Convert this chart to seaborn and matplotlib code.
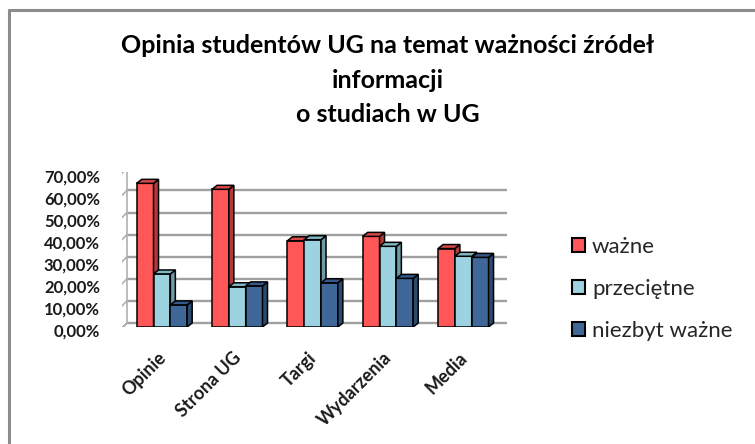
import numpy as np
import pandas as pd
import matplotlib
matplotlib.use("Agg")
import matplotlib.pyplot as plt
import matplotlib.transforms as mtransforms
from matplotlib.patches import Polygon, Patch
from matplotlib.lines import Line2D
import seaborn as sns

# dane (w %)
kategorie = ["Opinie", "Strona UG", "Targi", "Wydarzenia", "Media"]
wazne = [65.0, 62.3, 39.0, 41.0, 35.5]
przecietne = [24.0, 18.2, 39.5, 36.5, 32.0]
niezbyt_wazne = [10.0, 18.6, 20.0, 22.0, 31.5]
serie = ["ważne", "przeciętne", "niezbyt ważne"]
yticks = [0, 10, 20, 30, 40, 50, 60, 70]
tytul = "Opinia studentów UG na temat ważności źródeł\ninformacji\no studiach w UG"

kolory = ["#FF5757", "#9DD3E0", "#3F6899"]
boki = ["#B03A3A", "#6F9AA6", "#2B4A70"]
gory = ["#D94848", "#7FB6C4", "#34588A"]

df = pd.DataFrame({
    "kategoria": kategorie * 3,
    "wartosc": wazne + przecietne + niezbyt_wazne,
    "ocena": [s for s in serie for _ in kategorie],
})

sns.set_theme(style="white")
plt.rcParams["font.family"] = ["Lato", "DejaVu Sans"]

W, H = 755, 444
fig = plt.figure(figsize=(W / 100, H / 100), dpi=100)

# obszar wykresu w pikselach
left_px, right_px = 122, 507
zero_px, top_px = 327, 172.3
ax = fig.add_axes([left_px / W, (H - zero_px) / H, (right_px - left_px) / W, (zero_px - top_px) / H])

sns.barplot(data=df, x="kategoria", y="wartosc", hue="ocena", palette=kolory,
            width=0.67, edgecolor="black", linewidth=1.1, ax=ax, legend=False,
            saturation=1)
ax.set_xlim(-0.53, 4.58)
ax.set_ylim(0, 70)
for s in ax.spines.values():
    s.set_visible(False)
ax.set_xlabel("")
ax.set_ylabel("")
ax.set_yticks([])
ax.set_facecolor("none")


def off(dx, dy):
    return ax.transData + mtransforms.ScaledTranslation(dx / 100, dy / 100, fig.dpi_scale_trans)


back = (5, 4)
front = (-4, -5)
x0, x1 = ax.get_xlim()

# podloga
floor_pts = []
for (xx, (dx, dy)) in [(x0, front), (x1, front), (x1, back), (x0, back)]:
    floor_pts.append(off(dx, dy).transform((xx, 0)))
ax.add_patch(Polygon(floor_pts, closed=True, facecolor="white", edgecolor="#a0a0a0",
                     linewidth=1.3, transform=mtransforms.IdentityTransform(), zorder=0.5))

# linie siatki na tylnej scianie + lewa sciana
for y in yticks:
    ax.plot([x0, x1], [y, y], color="#a0a0a0", lw=1.7, transform=off(*back), zorder=0.6)
    p_front = off(*front).transform((x0, y))
    p_back = off(*back).transform((x0, y))
    ax.add_line(Line2D([p_front[0], p_back[0]], [p_front[1], p_back[1]], color="#b0b0b0",
                       lw=1.2, transform=mtransforms.IdentityTransform(), zorder=0.6))
ax.plot([x0, x0], [0, 70], color="#b0b0b0", lw=1.2, transform=off(*front), zorder=0.6)
ax.plot([x0, x0], [0, 70], color="#b0b0b0", lw=1.2, transform=off(*back), zorder=0.6)

# efekt 3D slupkow
ident = mtransforms.IdentityTransform()
n = len(kategorie)
for i, bar in enumerate(ax.patches[:3 * n]):
    k = i // n
    bx0, bx1 = bar.get_x(), bar.get_x() + bar.get_width()
    h = bar.get_height()
    bar.set_zorder(3 + k)
    td = ax.transData
    ob = off(*back)
    a, b = td.transform((bx1, 0)), td.transform((bx1, h))
    c, d = ob.transform((bx1, h)), ob.transform((bx1, 0))
    ax.add_patch(Polygon([a, b, c, d], closed=True, facecolor=boki[k], edgecolor="black",
                         linewidth=1.1, transform=ident, zorder=3 + k + 0.1))
    a, b = td.transform((bx0, h)), td.transform((bx1, h))
    c, d = ob.transform((bx1, h)), ob.transform((bx0, h))
    ax.add_patch(Polygon([a, b, c, d], closed=True, facecolor=gory[k], edgecolor="black",
                         linewidth=1.1, transform=ident, zorder=3 + k + 0.1))

# etykiety osi Y
ylab_tr = mtransforms.blended_transform_factory(ax.transAxes, ax.transData) + \
    mtransforms.ScaledTranslation(-0.04, -0.05, fig.dpi_scale_trans)
for y in yticks:
    ax.text(-0.047, y, f"{y:.2f}%".replace(".", ","), transform=ylab_tr, ha="right",
            va="center", fontsize=12, fontweight="bold", color="#1a1a1a")

# etykiety kategorii
ax.set_xticks(range(n))
ax.set_xticklabels(kategorie, rotation=45, ha="right", rotation_mode="anchor",
                   fontsize=13, fontweight="bold", color="#1a1a1a")
ax.tick_params(axis="x", length=0, pad=16)
shift = mtransforms.ScaledTranslation(-0.05, 0, fig.dpi_scale_trans)
for lab in ax.get_xticklabels():
    lab.set_transform(lab.get_transform() + shift)

# legenda
handles = [Patch(facecolor=c, edgecolor="black", linewidth=1.5) for c in kolory]
fig.legend(handles, serie, loc="center left", bbox_to_anchor=(572 / W, 1 - 289 / H),
           frameon=False, fontsize=16, handlelength=0.6, handleheight=0.6,
           handletextpad=0.3, labelspacing=0.98, borderpad=0, borderaxespad=0)

# tytul
fig.text(388 / W, 1 - 80 / H, tytul, ha="center", va="center", fontsize=18,
         fontweight="bold", linespacing=1.6, color="black")

# ramka
fig.add_artist(Line2D([9 / W, 1.0], [1 - 10 / H, 1 - 10 / H], color="#8c8c8c", lw=2.2,
                      transform=fig.transFigure))
fig.add_artist(Line2D([9 / W, 9 / W], [0, 1 - 10 / H], color="#8c8c8c", lw=2.2,
                      transform=fig.transFigure))

fig.savefig("out.png", dpi=100, facecolor="white")
